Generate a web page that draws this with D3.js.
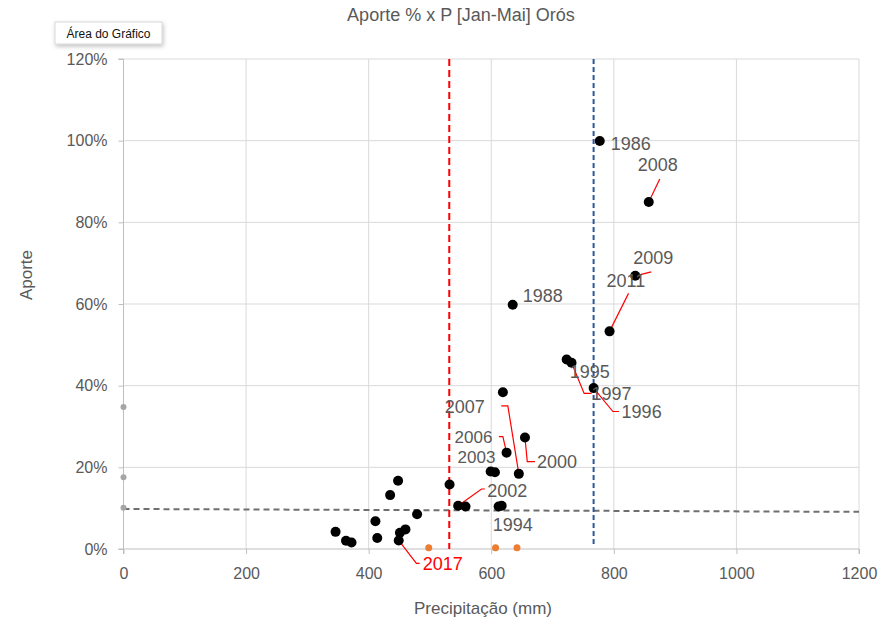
<!DOCTYPE html>
<html>
<head>
<meta charset="utf-8">
<script src="https://cdn.jsdelivr.net/npm/d3@7"></script>
<style>
  html, body { margin: 0; padding: 0; background: #fff; }
  svg { display: block; font-family: "Liberation Sans", Arial, sans-serif; }
</style>
</head>
<body>
<svg id="chart" width="893" height="623"></svg>
<script>
// ---------------- DATA ----------------
const precip = [346, 363, 372, 411, 414, 435, 448, 449, 451, 460, 479, 532, 546, 558, 599, 606, 612, 617, 619, 625, 645, 655, 635, 723, 731, 767, 777, 793, 835, 857];
const aporte = [4.2, 2.0, 1.6, 6.8, 2.7, 13.2, 16.7, 2.1, 4.0, 4.8, 8.5, 15.8, 10.6, 10.4, 19.0, 18.8, 10.4, 10.6, 38.4, 23.6, 18.4, 27.3, 59.8, 46.4, 45.6, 39.4, 99.9, 53.3, 66.9, 85.0];
const pointYear = ["", "", "", "", "", "", "", "2017", "", "", "", "", "2002", "", "", "", "", "1994", "", "2006", "2007", "2000", "1988", "1995", "1997", "1996", "1986", "2011", "2009", "2008"];

const orangePrecip = [498, 607, 642];
const orangeAporte = [0.3, 0.3, 0.3];

const grayPrecip = [0, 0, 0];
const grayAporte = [34.8, 17.6, 10.1];

const trendPrecip = [0, 1200];
const trendAporte = [9.8, 9.1];

const redLineP = 531.5;
const blueLineP = 767;

const xTicks = [0, 200, 400, 600, 800, 1000, 1200];
const yTicks = [0, 20, 40, 60, 80, 100, 120];

// label placement (pixel offsets from point), leaders as offset polylines
const labelLayout = {
  "1986": { dx: 11, dy: 2 },
  "2008": { dx: -11, dy: -37, leader: [[11, -23]] },
  "2009": { dx: -2, dy: -18, leader: [[16, -4]] },
  "2011": { dx: -3, dy: -51, leader: [[19, -38]] },
  "1988": { dx: 10, dy: -9 },
  "1995": { dx: 3, dy: 12 },
  "1997": { dx: 20, dy: 31, leader: [[12.6, 30.6], [20, 30.6]] },
  "1996": { dx: 28, dy: 23, leader: [[19.3, 23.4], [25.3, 23.4]] },
  "2007": { dx: -74, dy: -67, leader: [[-11, -68], [-17.6, -68]] },
  "2006": { dx: -52, dy: -16, size: 17, leader: [[-3.7, -16], [-7.7, -16]] },
  "2003": { dx: -49, dy: 4, size: 17, ref: "2006" },
  "2000": { dx: 12, dy: 24, leader: [[2.3, 24], [10, 24]] },
  "2002": { dx: 29, dy: -15, leader: [[23.4, -16.7], [26.7, -16.7]] },
  "1994": { dx: -9, dy: 19 },
  "2017": { dx: 24, dy: 23, leader: [[17.7, 23], [21, 23]], red: true }
};

// ---------------- CHART ----------------
const svg = d3.select("#chart");
const W = 893, H = 623;
const pL = 123.5, pR = 859, pT = 59, pB = 549;

svg.append("rect").attr("width", W).attr("height", H).attr("fill", "#fff");

const x = d3.scaleLinear().domain([0, 1200]).range([pL, pR]);
const y = d3.scaleLinear().domain([0, 120]).range([pB, pT]);

const textCol = "#595959";

// grid
svg.append("g").selectAll("line").data(yTicks.filter(d => d > 0)).join("line")
  .attr("x1", pL).attr("x2", pR)
  .attr("y1", d => y(d)).attr("y2", d => y(d))
  .attr("stroke", "#d9d9d9").attr("stroke-width", 1);
svg.append("g").selectAll("line").data(xTicks.filter(d => d > 0)).join("line")
  .attr("y1", pT).attr("y2", pB)
  .attr("x1", d => x(d)).attr("x2", d => x(d))
  .attr("stroke", "#d9d9d9").attr("stroke-width", 1);

// axes
const yAxis = d3.axisLeft(y).tickValues(yTicks).tickFormat(d => d + "%").tickSize(5).tickPadding(11);
const xAxis = d3.axisBottom(x).tickValues(xTicks).tickFormat(d3.format("d")).tickSize(5).tickPadding(14);

const gy = svg.append("g").attr("transform", `translate(${pL},0)`).call(yAxis);
const gx = svg.append("g").attr("transform", `translate(0,${pB})`).call(xAxis);
[gx, gy].forEach(g => {
  g.select(".domain").attr("stroke", "#bfbfbf");
  g.selectAll(".tick line").attr("stroke", "#bfbfbf");
  g.selectAll(".tick text").attr("fill", textCol).attr("font-size", 16)
    .attr("font-family", "Liberation Sans, Arial, sans-serif");
});
gy.select(".domain").attr("d", `M-5,${pB}H0V${pT}H-5`);
gx.select(".domain").attr("d", `M${pL},5V0H${pR}V5`);

// trend line
svg.append("line")
  .attr("x1", x(trendPrecip[0])).attr("y1", y(trendAporte[0]))
  .attr("x2", x(trendPrecip[1])).attr("y2", y(trendAporte[1]))
  .attr("stroke", "#6f6f6f").attr("stroke-width", 2).attr("stroke-dasharray", "6,4");

// reference vertical lines
svg.append("line")
  .attr("x1", x(redLineP)).attr("x2", x(redLineP)).attr("y1", pT).attr("y2", pB)
  .attr("stroke", "#ff0000").attr("stroke-width", 2).attr("stroke-dasharray", "7,4");
svg.append("line")
  .attr("x1", x(blueLineP)).attr("x2", x(blueLineP)).attr("y1", pT).attr("y2", pB - 3)
  .attr("stroke", "#2f5597").attr("stroke-width", 2).attr("stroke-dasharray", "5,3");

// gray points on y axis
svg.append("g").selectAll("circle").data(grayPrecip.map((p, i) => [p, grayAporte[i]])).join("circle")
  .attr("cx", d => x(d[0])).attr("cy", d => y(d[1])).attr("r", 3)
  .attr("fill", "#a6a6a6");

// orange points
svg.append("g").selectAll("circle").data(orangePrecip.map((p, i) => [p, orangeAporte[i]])).join("circle")
  .attr("cx", d => x(d[0])).attr("cy", d => y(d[1])).attr("r", 3.5)
  .attr("fill", "#ed7d31");

// leaders
const pts = precip.map((p, i) => ({ p, a: aporte[i], year: pointYear[i] }));
const byYear = {};
pts.forEach(d => { if (d.year) byYear[d.year] = d; });

const gLead = svg.append("g");
Object.entries(labelLayout).forEach(([yr, L]) => {
  const d = byYear[L.ref || yr];
  if (!d || !L.leader) return;
  const px = x(d.p), py = y(d.a);
  const path = d3.path();
  path.moveTo(px, py);
  L.leader.forEach(o => path.lineTo(px + o[0], py + o[1]));
  gLead.append("path").attr("d", path.toString())
    .attr("fill", "none").attr("stroke", "#ff0000").attr("stroke-width", 1.2);
});

// black points
svg.append("g").selectAll("circle").data(pts).join("circle")
  .attr("cx", d => x(d.p)).attr("cy", d => y(d.a)).attr("r", 5)
  .attr("fill", "#000");

// labels
const gLab = svg.append("g");
Object.entries(labelLayout).forEach(([yr, L]) => {
  const d = byYear[L.ref || yr];
  if (!d) return;
  gLab.append("text")
    .attr("x", x(d.p) + L.dx).attr("y", y(d.a) + L.dy)
    .attr("dy", "0.36em")
    .attr("font-size", L.size || 18)
    .attr("fill", L.red ? "#ff0000" : textCol)
    .text(yr);
});

// titles
svg.append("text").attr("x", 461).attr("y", 21).attr("text-anchor", "middle")
  .attr("font-size", 18).attr("fill", textCol).text("Aporte % x P [Jan-Mai] Orós");
svg.append("text").attr("x", 483).attr("y", 614).attr("text-anchor", "middle")
  .attr("font-size", 17).attr("fill", textCol).text("Precipitação (mm)");
svg.append("text").attr("transform", "translate(32,275) rotate(-90)").attr("text-anchor", "middle")
  .attr("font-size", 17).attr("fill", textCol).text("Aporte");

// tooltip box
const defs = svg.append("defs");
const f = defs.append("filter").attr("id", "sh").attr("x", "-20%").attr("y", "-30%").attr("width", "140%").attr("height", "170%");
f.append("feDropShadow").attr("dx", 1).attr("dy", 2).attr("stdDeviation", 2).attr("flood-color", "#000").attr("flood-opacity", 0.25);
svg.append("rect").attr("x", 55).attr("y", 22).attr("width", 107).attr("height", 22)
  .attr("fill", "#fff").attr("stroke", "#cfcfcf").attr("stroke-width", 0.8).attr("filter", "url(#sh)");
svg.append("text").attr("x", 108.5).attr("y", 37.5).attr("text-anchor", "middle")
  .attr("font-size", 12).attr("fill", "#111").text("Área do Gráfico");
</script>
</body>
</html>
